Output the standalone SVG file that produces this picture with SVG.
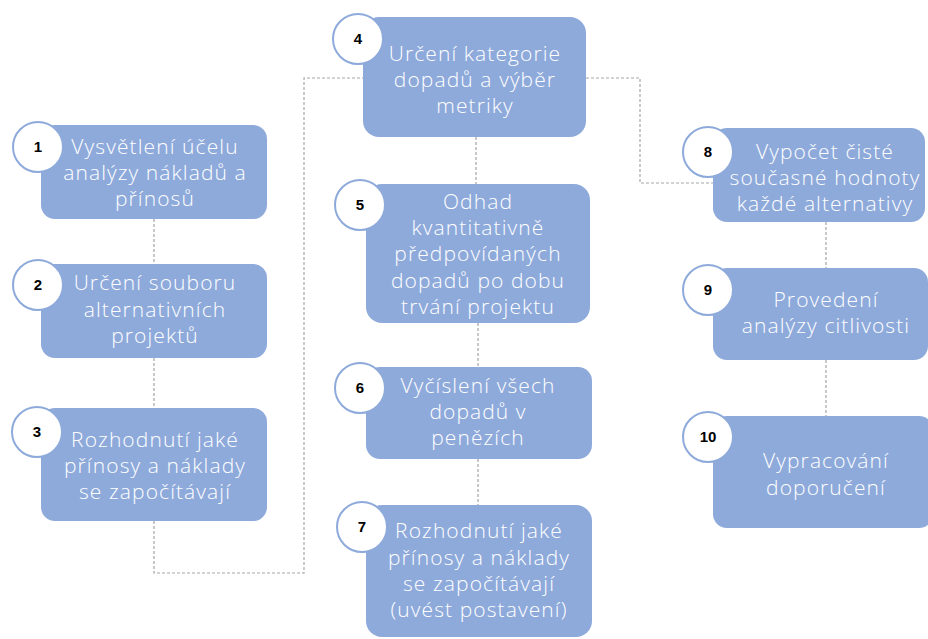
<svg xmlns="http://www.w3.org/2000/svg" width="928" height="639" viewBox="0 0 928 639">
<style>
.box{fill:#8eaadb;}
.num{fill:#ffffff;stroke:#8eaadb;stroke-width:2;}
.t{font-family:"Open Sans","DejaVu Sans",sans-serif;font-weight:300;font-size:21px;letter-spacing:1.1px;fill:#ffffff;text-anchor:middle;}
.n{font-family:"Liberation Sans",Arial,sans-serif;font-weight:bold;font-size:15px;fill:#000000;text-anchor:middle;}
.c{fill:none;stroke:#a6a6a6;stroke-width:1.2;stroke-dasharray:3 2;}
</style>
<rect width="928" height="639" fill="#ffffff"/>
<g id="connectors">
<path class="c" d="M154 219V264"/>
<path class="c" d="M154 358V408"/>
<path class="c" d="M154 521V573H304V78H363"/>
<path class="c" d="M586 78H640V183H713"/>
<path class="c" d="M476 137V184"/>
<path class="c" d="M478 323V367"/>
<path class="c" d="M478 459V505"/>
<path class="c" d="M826 222V268"/>
<path class="c" d="M826 360V416"/>
</g>
<g id="node1">
<rect class="box" x="41" y="125" width="226" height="94" rx="14"/>
<text class="t" x="155" y="154">Vysvětlení účelu</text>
<text class="t" x="155" y="180">analýzy nákladů a</text>
<text class="t" x="155" y="206">přínosů</text>
<circle class="num" cx="38" cy="147" r="25"/>
<text class="n" x="38" y="152">1</text>
</g>
<g id="node2">
<rect class="box" x="41" y="264" width="226" height="94" rx="14"/>
<text class="t" x="155" y="290">Určení souboru</text>
<text class="t" x="155" y="317">alternativních</text>
<text class="t" x="155" y="343">projektů</text>
<circle class="num" cx="38" cy="285" r="25"/>
<text class="n" x="38" y="290">2</text>
</g>
<g id="node3">
<rect class="box" x="41" y="408" width="226" height="113" rx="14"/>
<text class="t" x="155" y="447">Rozhodnutí jaké</text>
<text class="t" x="155" y="473">přínosy a náklady</text>
<text class="t" x="155" y="499">se započítávají</text>
<circle class="num" cx="37" cy="432" r="25"/>
<text class="n" x="37" y="437">3</text>
</g>
<g id="node4">
<rect class="box" x="363" y="17" width="223" height="120" rx="16"/>
<text class="t" x="475" y="61">Určení kategorie</text>
<text class="t" x="475" y="87">dopadů a výběr</text>
<text class="t" x="475" y="113">metriky</text>
<circle class="num" cx="358" cy="39" r="25"/>
<text class="n" x="358" y="44">4</text>
</g>
<g id="node5">
<rect class="box" x="366" y="184" width="224" height="139" rx="16"/>
<text class="t" x="478" y="209">Odhad</text>
<text class="t" x="478" y="235">kvantitativně</text>
<text class="t" x="478" y="261">předpovídaných</text>
<text class="t" x="478" y="288">dopadů po dobu</text>
<text class="t" x="478" y="314">trvání projektu</text>
<circle class="num" cx="360" cy="205" r="25"/>
<text class="n" x="360" y="210">5</text>
</g>
<g id="node6">
<rect class="box" x="366" y="367" width="226" height="92" rx="14"/>
<text class="t" x="478" y="393">Vyčíslení všech</text>
<text class="t" x="478" y="419">dopadů v</text>
<text class="t" x="478" y="445">penězích</text>
<circle class="num" cx="360" cy="388" r="25"/>
<text class="n" x="360" y="393">6</text>
</g>
<g id="node7">
<rect class="box" x="366" y="505" width="226" height="132" rx="16"/>
<text class="t" x="479" y="538">Rozhodnutí jaké</text>
<text class="t" x="479" y="565">přínosy a náklady</text>
<text class="t" x="479" y="591">se započítávají</text>
<text class="t" x="479" y="617">(uvést postavení)</text>
<circle class="num" cx="362" cy="527" r="25"/>
<text class="n" x="362" y="532">7</text>
</g>
<g id="node8">
<rect class="box" x="713" y="128" width="212" height="94" rx="14"/>
<text class="t" x="825" y="159">Vypočet čisté</text>
<text class="t" x="825" y="185">současné hodnoty</text>
<text class="t" x="825" y="211">každé alternativy</text>
<circle class="num" cx="708" cy="152" r="25"/>
<text class="n" x="708" y="157">8</text>
</g>
<g id="node9">
<rect class="box" x="713" y="268" width="215" height="92" rx="14"/>
<text class="t" x="826" y="307">Provedení</text>
<text class="t" x="826" y="333">analýzy citlivosti</text>
<circle class="num" cx="708" cy="290" r="25"/>
<text class="n" x="708" y="295">9</text>
</g>
<g id="node10">
<rect class="box" x="713" y="416" width="220" height="112" rx="14"/>
<text class="t" x="826" y="468">Vypracování</text>
<text class="t" x="826" y="495">doporučení</text>
<circle class="num" cx="708" cy="437" r="25"/>
<text class="n" x="708" y="442">10</text>
</g>
</svg>
